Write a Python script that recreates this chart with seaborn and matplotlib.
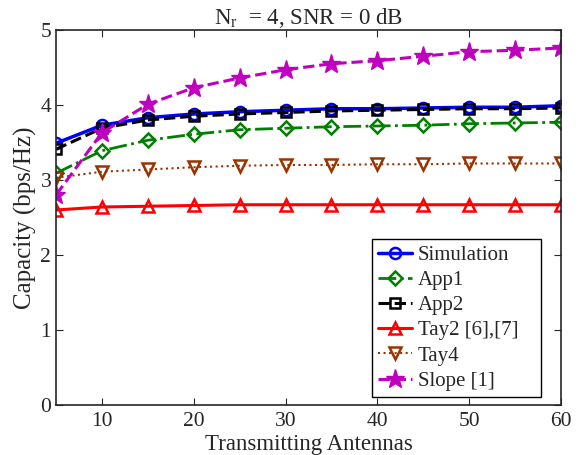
import matplotlib
matplotlib.use("Agg")
import matplotlib.pyplot as plt
import seaborn as sns
import pandas as pd

antennas = [5, 10, 15, 20, 25, 30, 35, 40, 45, 50, 55, 60]
simulation = [3.49, 3.73, 3.83, 3.88, 3.91, 3.93, 3.95, 3.95, 3.96, 3.97, 3.97, 3.99]
app1 = [3.09, 3.39, 3.53, 3.61, 3.67, 3.69, 3.71, 3.72, 3.73, 3.75, 3.76, 3.77]
app2 = [3.41, 3.69, 3.80, 3.85, 3.88, 3.90, 3.92, 3.93, 3.94, 3.95, 3.95, 3.96]
tay2 = [2.60, 2.64, 2.65, 2.66, 2.67, 2.67, 2.67, 2.67, 2.67, 2.67, 2.67, 2.67]
tay4 = [3.03, 3.11, 3.14, 3.17, 3.19, 3.20, 3.20, 3.21, 3.21, 3.22, 3.22, 3.22]
slope = [2.80, 3.63, 4.01, 4.23, 4.36, 4.47, 4.55, 4.59, 4.65, 4.71, 4.73, 4.76]

labels = ["Simulation", "App1", "App2", "Tay2 [6],[7]", "Tay4", "Slope [1]"]
series = [simulation, app1, app2, tay2, tay4, slope]

sns.set_style("ticks")
plt.rcParams['font.family'] = ['Liberation Serif', 'DejaVu Serif']
plt.rcParams['mathtext.fontset'] = 'custom'
plt.rcParams['mathtext.rm'] = 'Liberation Serif'
plt.rcParams['mathtext.it'] = 'Liberation Serif:italic'

fig = plt.figure(figsize=(5.84, 4.55), dpi=100)
ax = fig.add_axes([0.0959, 0.1099, 0.8647, 0.8242])

styles = [
    dict(color=(0, 0, 1), linestyle='-', marker='o', mfc='none', ms=8, lw=2.5, mew=1.8),
    dict(color=(0, 0.5, 0), linestyle='-.', marker='D', mfc='none', ms=7, lw=2, mew=1.8),
    dict(color='black', linestyle='--', marker='s', mfc='none', ms=7, lw=2.2, mew=1.8),
    dict(color=(1, 0, 0), linestyle='-', marker='^', mfc='none', ms=9, lw=2.2, mew=1.8),
    dict(color=(0.6, 0.2, 0), linestyle=':', marker='v', mfc='none', ms=9, lw=1.5, mew=1.8),
    dict(color=(0.75, 0, 0.75), linestyle='--', marker='*', ms=14, lw=2.2, mew=1),
]

for lab, vals, st in zip(labels, series, styles):
    df = pd.DataFrame({"x": antennas, "y": vals})
    sns.lineplot(data=df, x="x", y="y", ax=ax, label=lab,
                 color=st['color'], linestyle=st['linestyle'], marker=st['marker'],
                 markerfacecolor=st.get('mfc', st['color']), markeredgecolor=st['color'],
                 markersize=st['ms'], linewidth=st['lw'], markeredgewidth=st['mew'])

ax.set_xlim(5, 60)
ax.set_ylim(0, 5)
ax.set_xticks([10, 20, 30, 40, 50, 60])
ax.set_yticks([0, 1, 2, 3, 4, 5])
ax.tick_params(direction='in', top=True, right=True, labelsize=15.5, length=5, width=0.8)
ax.tick_params(axis='x', pad=5)
for s in ax.spines.values():
    s.set_linewidth(1.2)
ax.set_xlabel("Transmitting Antennas", fontsize=16.5, labelpad=2)
ax.set_ylabel("Capacity (bps/Hz)", fontsize=18, labelpad=2)
ax.set_title(r"N$_\mathregular{r}$  = 4, SNR = 0 dB", fontsize=16.5, pad=4)

leg = ax.legend(loc='lower left', bbox_to_anchor=(0.626, 0.021, 0.334, 0.3), mode='expand',
                fontsize=15, frameon=True, fancybox=False, edgecolor='black', framealpha=1,
                handlelength=1.6, handletextpad=0.3, borderpad=0.3, labelspacing=0.27,
                borderaxespad=0)
leg.get_frame().set_linewidth(1.0)

fig.savefig("out.png", dpi=100)
